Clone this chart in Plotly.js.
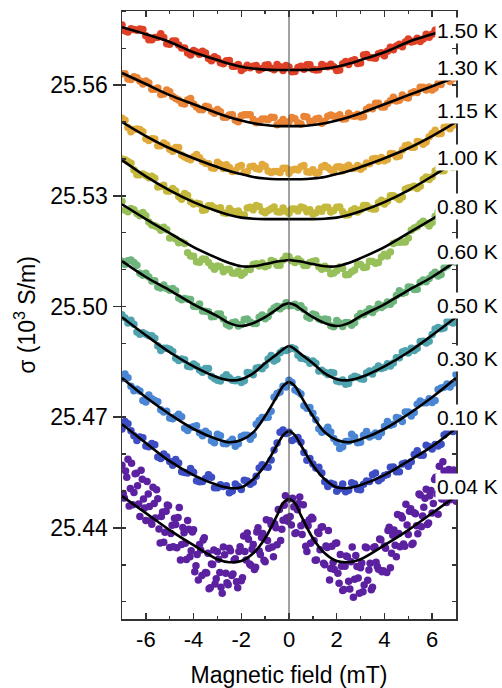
<!DOCTYPE html>
<html><head><meta charset="utf-8">
<script src="https://cdn.plot.ly/plotly-3.0.1.min.js"></script>
<style>body{margin:0;background:#fff}#chart{width:502px;height:688px}</style>
</head><body><div id="chart"></div>
<script>
// ---- data ----
const temps = ['1.50 K','1.30 K','1.15 K','1.00 K','0.80 K','0.60 K','0.50 K','0.30 K','0.10 K','0.04 K'];
const xDots = [-7,-6.75,-6.5,-6.25,-6,-5.75,-5.5,-5.25,-5,-4.75,-4.5,-4.25,-4,-3.75,-3.5,-3.25,-3,-2.75,-2.5,-2.25,-2,-1.75,-1.5,-1.25,-1,-0.75,-0.5,-0.25,0,0.25,0.5,0.75,1,1.25,1.5,1.75,2,2.25,2.5,2.75,3,3.25,3.5,3.75,4,4.25,4.5,4.75,5,5.25,5.5,5.75,6,6.25,6.5,6.75,7];
const xDotsB = [-6.875,-6.625,-6.375,-6.125,-5.875,-5.625,-5.375,-5.125,-4.875,-4.625,-4.375,-4.125,-3.875,-3.625,-3.375,-3.125,-2.875,-2.625,-2.375,-2.125,-1.875,-1.625,-1.375,-1.125,-0.875,-0.625,-0.375,-0.125,0.125,0.375,0.625,0.875,1.125,1.375,1.625,1.875,2.125,2.375,2.625,2.875,3.125,3.375,3.625,3.875,4.125,4.375,4.625,4.875,5.125,5.375,5.625,5.875,6.125,6.375,6.625,6.875];
const d150 = [25.5763,25.5744,25.5751,25.5752,25.5734,25.5723,25.5730,25.5729,25.5711,25.5720,25.5701,25.5687,25.5694,25.5684,25.5687,25.5666,25.5672,25.5658,25.5667,25.5651,25.5640,25.5654,25.5651,25.5641,25.5654,25.5646,25.5656,25.5640,25.5649,25.5637,25.5651,25.5655,25.5643,25.5642,25.5652,25.5657,25.5640,25.5658,25.5656,25.5669,25.5660,25.5683,25.5674,25.5685,25.5680,25.5703,25.5706,25.5704,25.5725,25.5719,25.5718,25.5738,25.5738,25.5752,25.5741,25.5756,25.5753];
const d150b = [25.5747,25.5753,25.5749,25.5751,25.5723,25.5729,25.5739,25.5712,25.5720,25.5709,25.5701,25.5682,25.5690,25.5692,25.5672,25.5677,25.5661,25.5666,25.5651,25.5656,25.5646,25.5647,25.5653,25.5645,25.5655,25.5642,25.5650,25.5653,25.5636,25.5648,25.5643,25.5655,25.5641,25.5656,25.5650,25.5650,25.5641,25.5664,25.5666,25.5659,25.5682,25.5675,25.5673,25.5688,25.5692,25.5696,25.5711,25.5717,25.5717,25.5727,25.5725,25.5730,25.5749,25.5756,25.5743,25.5758];
const d130 = [25.5631,25.5617,25.5623,25.5611,25.5611,25.5589,25.5592,25.5576,25.5582,25.5564,25.5551,25.5560,25.5549,25.5534,25.5543,25.5529,25.5534,25.5513,25.5519,25.5505,25.5517,25.5520,25.5507,25.5502,25.5508,25.5513,25.5493,25.5507,25.5501,25.5509,25.5495,25.5514,25.5501,25.5510,25.5502,25.5519,25.5515,25.5508,25.5524,25.5516,25.5514,25.5535,25.5536,25.5551,25.5541,25.5558,25.5557,25.5573,25.5565,25.5582,25.5594,25.5587,25.5587,25.5605,25.5617,25.5610,25.5632];
const d130b = [25.5631,25.5615,25.5620,25.5603,25.5606,25.5589,25.5575,25.5587,25.5569,25.5560,25.5549,25.5564,25.5541,25.5533,25.5541,25.5524,25.5528,25.5513,25.5520,25.5501,25.5520,25.5520,25.5498,25.5508,25.5506,25.5512,25.5498,25.5496,25.5512,25.5498,25.5515,25.5502,25.5508,25.5497,25.5516,25.5516,25.5520,25.5509,25.5517,25.5521,25.5515,25.5540,25.5551,25.5541,25.5550,25.5567,25.5559,25.5567,25.5579,25.5580,25.5594,25.5595,25.5592,25.5602,25.5620,25.5618];
const d115 = [25.5510,25.5485,25.5480,25.5480,25.5455,25.5455,25.5436,25.5443,25.5426,25.5431,25.5411,25.5401,25.5406,25.5403,25.5388,25.5376,25.5391,25.5374,25.5377,25.5368,25.5382,25.5365,25.5380,25.5372,25.5380,25.5363,25.5366,25.5375,25.5361,25.5372,25.5379,25.5365,25.5371,25.5364,25.5382,25.5371,25.5378,25.5368,25.5383,25.5375,25.5372,25.5389,25.5400,25.5394,25.5395,25.5415,25.5406,25.5424,25.5438,25.5432,25.5446,25.5446,25.5469,25.5468,25.5486,25.5482,25.5503];
const d115b = [25.5505,25.5474,25.5481,25.5474,25.5450,25.5454,25.5436,25.5438,25.5421,25.5431,25.5405,25.5398,25.5412,25.5393,25.5387,25.5375,25.5385,25.5384,25.5366,25.5379,25.5364,25.5379,25.5374,25.5385,25.5367,25.5366,25.5363,25.5375,25.5370,25.5370,25.5382,25.5364,25.5361,25.5378,25.5377,25.5366,25.5379,25.5378,25.5374,25.5382,25.5378,25.5387,25.5401,25.5404,25.5399,25.5414,25.5408,25.5436,25.5432,25.5447,25.5440,25.5460,25.5478,25.5469,25.5488,25.5491];
const d100 = [25.5400,25.5393,25.5370,25.5357,25.5355,25.5353,25.5324,25.5329,25.5313,25.5313,25.5291,25.5301,25.5278,25.5278,25.5262,25.5273,25.5265,25.5254,25.5266,25.5256,25.5249,25.5267,25.5262,25.5271,25.5254,25.5265,25.5257,25.5267,25.5253,25.5264,25.5270,25.5257,25.5251,25.5264,25.5269,25.5256,25.5269,25.5257,25.5249,25.5265,25.5262,25.5274,25.5264,25.5281,25.5278,25.5300,25.5296,25.5297,25.5321,25.5326,25.5326,25.5351,25.5352,25.5374,25.5368,25.5388,25.5386];
const d100b = [25.5398,25.5388,25.5357,25.5359,25.5349,25.5348,25.5325,25.5313,25.5320,25.5298,25.5306,25.5284,25.5280,25.5261,25.5273,25.5268,25.5268,25.5253,25.5258,25.5259,25.5248,25.5269,25.5274,25.5258,25.5260,25.5270,25.5256,25.5258,25.5264,25.5259,25.5267,25.5262,25.5254,25.5258,25.5269,25.5260,25.5270,25.5248,25.5260,25.5256,25.5274,25.5267,25.5264,25.5288,25.5285,25.5300,25.5290,25.5318,25.5323,25.5320,25.5344,25.5344,25.5367,25.5368,25.5386,25.5377];
const d080 = [25.5285,25.5257,25.5262,25.5246,25.5246,25.5221,25.5215,25.5215,25.5186,25.5183,25.5175,25.5146,25.5136,25.5120,25.5128,25.5110,25.5110,25.5094,25.5101,25.5090,25.5085,25.5102,25.5114,25.5110,25.5108,25.5125,25.5112,25.5126,25.5135,25.5119,25.5122,25.5111,25.5122,25.5108,25.5109,25.5089,25.5097,25.5103,25.5087,25.5099,25.5114,25.5107,25.5122,25.5119,25.5142,25.5148,25.5174,25.5175,25.5186,25.5213,25.5225,25.5226,25.5228,25.5257,25.5253,25.5269,25.5271];
const d080b = [25.5261,25.5266,25.5252,25.5255,25.5229,25.5219,25.5207,25.5208,25.5188,25.5173,25.5171,25.5137,25.5121,25.5129,25.5119,25.5101,25.5108,25.5100,25.5091,25.5096,25.5091,25.5100,25.5116,25.5118,25.5111,25.5122,25.5112,25.5136,25.5124,25.5129,25.5111,25.5119,25.5124,25.5101,25.5103,25.5091,25.5107,25.5086,25.5094,25.5113,25.5106,25.5123,25.5117,25.5134,25.5137,25.5171,25.5174,25.5175,25.5207,25.5216,25.5231,25.5218,25.5245,25.5263,25.5254,25.5274];
const d060 = [25.5123,25.5124,25.5119,25.5090,25.5090,25.5069,25.5053,25.5058,25.5044,25.5043,25.5018,25.5020,25.5001,25.5007,25.4987,25.4972,25.4980,25.4966,25.4947,25.4958,25.4951,25.4966,25.4954,25.4971,25.4967,25.4987,25.5001,25.5000,25.5002,25.5006,25.5002,25.4972,25.4980,25.4966,25.4966,25.4948,25.4962,25.4946,25.4956,25.4956,25.4981,25.4985,25.4984,25.5006,25.5003,25.5006,25.5030,25.5035,25.5053,25.5046,25.5066,25.5067,25.5086,25.5083,25.5105,25.5121,25.5119];
const d060b = [25.5114,25.5126,25.5112,25.5085,25.5080,25.5070,25.5050,25.5049,25.5049,25.5023,25.5022,25.5019,25.5000,25.4988,25.4986,25.4973,25.4980,25.4952,25.4956,25.4947,25.4965,25.4958,25.4954,25.4977,25.4973,25.4996,25.4994,25.5010,25.5003,25.4998,25.4992,25.4968,25.4977,25.4963,25.4965,25.4945,25.4955,25.4957,25.4949,25.4972,25.4978,25.4994,25.4993,25.4997,25.5012,25.5014,25.5043,25.5038,25.5052,25.5047,25.5072,25.5076,25.5093,25.5087,25.5110,25.5126];
const d050 = [25.4978,25.4955,25.4952,25.4925,25.4925,25.4921,25.4893,25.4887,25.4884,25.4860,25.4858,25.4838,25.4844,25.4828,25.4832,25.4811,25.4800,25.4808,25.4807,25.4799,25.4794,25.4821,25.4815,25.4835,25.4840,25.4867,25.4857,25.4881,25.4884,25.4885,25.4860,25.4856,25.4852,25.4825,25.4822,25.4821,25.4798,25.4801,25.4791,25.4811,25.4804,25.4820,25.4817,25.4839,25.4835,25.4839,25.4861,25.4877,25.4874,25.4881,25.4905,25.4901,25.4924,25.4943,25.4942,25.4959,25.4963];
const d050b = [25.4969,25.4963,25.4931,25.4929,25.4921,25.4914,25.4881,25.4887,25.4878,25.4854,25.4856,25.4837,25.4839,25.4822,25.4832,25.4805,25.4798,25.4815,25.4800,25.4802,25.4799,25.4820,25.4833,25.4831,25.4858,25.4852,25.4875,25.4881,25.4888,25.4868,25.4859,25.4846,25.4846,25.4827,25.4816,25.4820,25.4796,25.4789,25.4806,25.4808,25.4803,25.4825,25.4830,25.4832,25.4845,25.4847,25.4861,25.4880,25.4887,25.4887,25.4906,25.4906,25.4939,25.4940,25.4959,25.4955];
const d030 = [25.4805,25.4807,25.4772,25.4771,25.4741,25.4750,25.4742,25.4714,25.4698,25.4701,25.4701,25.4664,25.4674,25.4658,25.4662,25.4636,25.4654,25.4629,25.4633,25.4621,25.4648,25.4651,25.4651,25.4691,25.4699,25.4716,25.4764,25.4784,25.4800,25.4774,25.4763,25.4724,25.4711,25.4669,25.4663,25.4660,25.4632,25.4620,25.4635,25.4646,25.4632,25.4661,25.4651,25.4648,25.4675,25.4678,25.4699,25.4688,25.4714,25.4713,25.4744,25.4739,25.4740,25.4775,25.4781,25.4782,25.4816];
const d030b = [25.4817,25.4784,25.4776,25.4745,25.4760,25.4745,25.4720,25.4716,25.4696,25.4708,25.4670,25.4672,25.4677,25.4650,25.4655,25.4631,25.4650,25.4628,25.4640,25.4628,25.4651,25.4640,25.4681,25.4699,25.4700,25.4754,25.4768,25.4782,25.4794,25.4769,25.4731,25.4726,25.4693,25.4659,25.4673,25.4642,25.4615,25.4634,25.4654,25.4631,25.4651,25.4646,25.4657,25.4658,25.4688,25.4681,25.4697,25.4714,25.4703,25.4735,25.4739,25.4750,25.4745,25.4779,25.4790,25.4792];
const d010 = [25.4668,25.4682,25.4650,25.4646,25.4622,25.4629,25.4592,25.4600,25.4580,25.4585,25.4552,25.4549,25.4551,25.4525,25.4534,25.4537,25.4509,25.4512,25.4495,25.4519,25.4504,25.4527,25.4524,25.4562,25.4566,25.4584,25.4630,25.4665,25.4659,25.4641,25.4632,25.4583,25.4573,25.4564,25.4525,25.4521,25.4499,25.4519,25.4502,25.4519,25.4503,25.4527,25.4544,25.4528,25.4542,25.4564,25.4552,25.4573,25.4567,25.4599,25.4597,25.4624,25.4614,25.4622,25.4652,25.4668,25.4667];
const d010b = [25.4688,25.4663,25.4637,25.4644,25.4620,25.4625,25.4588,25.4593,25.4570,25.4576,25.4550,25.4561,25.4528,25.4526,25.4544,25.4509,25.4517,25.4514,25.4500,25.4512,25.4529,25.4518,25.4540,25.4571,25.4564,25.4611,25.4659,25.4656,25.4637,25.4645,25.4604,25.4588,25.4562,25.4549,25.4512,25.4518,25.4506,25.4498,25.4522,25.4505,25.4518,25.4526,25.4549,25.4534,25.4545,25.4565,25.4552,25.4576,25.4579,25.4609,25.4597,25.4620,25.4626,25.4627,25.4664,25.4661];
const xP = [-7,-6.9,-6.8,-6.7,-6.6,-6.5,-6.4,-6.3,-6.2,-6.1,-6,-5.9,-5.8,-5.7,-5.6,-5.5,-5.4,-5.3,-5.2,-5.1,-5,-4.9,-4.8,-4.7,-4.6,-4.5,-4.4,-4.3,-4.2,-4.1,-4,-3.9,-3.8,-3.7,-3.6,-3.5,-3.4,-3.3,-3.2,-3.1,-3,-2.9,-2.8,-2.7,-2.6,-2.5,-2.4,-2.3,-2.2,-2.1,-2,-1.9,-1.8,-1.7,-1.6,-1.5,-1.4,-1.3,-1.2,-1.1,-1,-0.9,-0.8,-0.7,-0.6,-0.5,-0.4,-0.3,-0.2,-0.1,0,0.1,0.2,0.3,0.4,0.5,0.6,0.7,0.8,0.9,1,1.1,1.2,1.3,1.4,1.5,1.6,1.7,1.8,1.9,2,2.1,2.2,2.3,2.4,2.5,2.6,2.7,2.8,2.9,3,3.1,3.2,3.3,3.4,3.5,3.6,3.7,3.8,3.9,4,4.1,4.2,4.3,4.4,4.5,4.6,4.7,4.8,4.9,5,5.1,5.2,5.3,5.4,5.5,5.6,5.7,5.8,5.9,6,6.1,6.2,6.3,6.4,6.5,6.6,6.7,6.8,6.9,7];
const d004 = [25.4570,25.4481,25.4537,25.4459,25.4575,25.4496,25.4548,25.4465,25.4556,25.4478,25.4420,25.4492,25.4419,25.4510,25.4427,25.4479,25.4359,25.4443,25.4388,25.4462,25.4347,25.4407,25.4426,25.4346,25.4455,25.4355,25.4387,25.4314,25.4396,25.4338,25.4395,25.4297,25.4259,25.4340,25.4367,25.4279,25.4331,25.4238,25.4301,25.4248,25.4335,25.4279,25.4223,25.4327,25.4251,25.4345,25.4271,25.4313,25.4254,25.4336,25.4257,25.4378,25.4313,25.4369,25.4299,25.4355,25.4293,25.4400,25.4328,25.4385,25.4308,25.4366,25.4419,25.4348,25.4411,25.4354,25.4450,25.4396,25.4461,25.4427,25.4478,25.4408,25.4457,25.4387,25.4466,25.4406,25.4463,25.4350,25.4406,25.4358,25.4425,25.4312,25.4389,25.4341,25.4403,25.4300,25.4347,25.4259,25.4350,25.4287,25.4359,25.4250,25.4296,25.4233,25.4324,25.4255,25.4308,25.4212,25.4325,25.4264,25.4292,25.4227,25.4348,25.4258,25.4304,25.4239,25.4349,25.4295,25.4370,25.4281,25.4351,25.4279,25.4402,25.4331,25.4394,25.4322,25.4385,25.4433,25.4356,25.4464,25.4382,25.4452,25.4358,25.4438,25.4384,25.4489,25.4432,25.4480,25.4409,25.4487,25.4440,25.4531,25.4492,25.4567,25.4478,25.4554,25.4469,25.4558,25.4493,25.4557,25.4472];
const xPB = [-6.95,-6.85,-6.75,-6.65,-6.55,-6.45,-6.35,-6.25,-6.15,-6.05,-5.95,-5.85,-5.75,-5.65,-5.55,-5.45,-5.35,-5.25,-5.15,-5.05,-4.95,-4.85,-4.75,-4.65,-4.55,-4.45,-4.35,-4.25,-4.15,-4.05,-3.95,-3.85,-3.75,-3.65,-3.55,-3.45,-3.35,-3.25,-3.15,-3.05,-2.95,-2.85,-2.75,-2.65,-2.55,-2.45,-2.35,-2.25,-2.15,-2.05,-1.95,-1.85,-1.75,-1.65,-1.55,-1.45,-1.35,-1.25,-1.15,-1.05,-0.95,-0.85,-0.75,-0.65,-0.55,-0.45,-0.35,-0.25,-0.15,-0.05,0.05,0.15,0.25,0.35,0.45,0.55,0.65,0.75,0.85,0.95,1.05,1.15,1.25,1.35,1.45,1.55,1.65,1.75,1.85,1.95,2.05,2.15,2.25,2.35,2.45,2.55,2.65,2.75,2.85,2.95,3.05,3.15,3.25,3.35,3.45,3.55,3.65,3.75,3.85,3.95,4.05,4.15,4.25,4.35,4.45,4.55,4.65,4.75,4.85,4.95,5.05,5.15,5.25,5.35,5.45,5.55,5.65,5.75,5.85,5.95,6.05,6.15,6.25,6.35,6.45,6.55,6.65,6.75,6.85,6.95];
const d004b = [25.4493,25.4554,25.4586,25.4507,25.4463,25.4547,25.4514,25.4431,25.4532,25.4454,25.4526,25.4458,25.4410,25.4466,25.4503,25.4397,25.4431,25.4361,25.4445,25.4460,25.4385,25.4349,25.4409,25.4428,25.4313,25.4401,25.4358,25.4420,25.4322,25.4389,25.4281,25.4328,25.4355,25.4271,25.4373,25.4278,25.4235,25.4302,25.4340,25.4262,25.4315,25.4239,25.4348,25.4277,25.4246,25.4338,25.4275,25.4316,25.4238,25.4349,25.4265,25.4336,25.4386,25.4302,25.4342,25.4287,25.4389,25.4337,25.4374,25.4312,25.4422,25.4345,25.4409,25.4322,25.4400,25.4450,25.4366,25.4421,25.4487,25.4418,25.4431,25.4480,25.4385,25.4449,25.4484,25.4382,25.4414,25.4336,25.4422,25.4429,25.4366,25.4313,25.4385,25.4402,25.4304,25.4351,25.4393,25.4290,25.4306,25.4358,25.4277,25.4328,25.4230,25.4296,25.4322,25.4234,25.4348,25.4261,25.4295,25.4223,25.4305,25.4245,25.4346,25.4286,25.4232,25.4347,25.4307,25.4288,25.4368,25.4284,25.4345,25.4393,25.4292,25.4380,25.4353,25.4436,25.4349,25.4427,25.4350,25.4408,25.4445,25.4355,25.4441,25.4406,25.4492,25.4403,25.4456,25.4505,25.4413,25.4501,25.4466,25.4537,25.4437,25.4513,25.4579,25.4502,25.4546,25.4476,25.4550,25.4495];

const xFit = [-7,-6,-5,-4,-3,-2.5,-2,-1.5,-1,-0.5,-0.25,0,0.25,0.5,1,1.5,2,2.5,3,4,5,6,7];
const f150 = [25.5757,25.5738,25.5717,25.5689,25.5668,25.5658,25.5650,25.5645,25.5642,25.5641,25.5641,25.5641,25.5641,25.5641,25.5642,25.5645,25.5650,25.5658,25.5668,25.5689,25.5717,25.5738,25.5757];
const f130 = [25.5633,25.5603,25.5573,25.5548,25.5524,25.5513,25.5504,25.5497,25.5492,25.5489,25.5489,25.5489,25.5489,25.5489,25.5492,25.5497,25.5504,25.5513,25.5524,25.5548,25.5573,25.5597,25.5622];
const f115 = [25.5500,25.5462,25.5429,25.5402,25.5378,25.5367,25.5359,25.5351,25.5347,25.5345,25.5345,25.5345,25.5345,25.5345,25.5347,25.5351,25.5359,25.5367,25.5378,25.5402,25.5429,25.5462,25.5500];
const f100 = [25.5397,25.5353,25.5315,25.5283,25.5258,25.5248,25.5241,25.5238,25.5237,25.5237,25.5237,25.5237,25.5237,25.5237,25.5237,25.5238,25.5241,25.5248,25.5258,25.5283,25.5315,25.5353,25.5394];
const f080 = [25.5277,25.5237,25.5199,25.5161,25.5131,25.5118,25.5109,25.5109,25.5115,25.5122,25.5124,25.5126,25.5124,25.5122,25.5115,25.5109,25.5109,25.5118,25.5131,25.5161,25.5199,25.5237,25.5277];
const f060 = [25.5123,25.5080,25.5044,25.5006,25.4974,25.4955,25.4947,25.4955,25.4971,25.4993,25.5004,25.5009,25.5004,25.4993,25.4971,25.4955,25.4947,25.4955,25.4974,25.5006,25.5044,25.5080,25.5123];
const f050 = [25.4971,25.4922,25.4876,25.4838,25.4808,25.4800,25.4803,25.4819,25.4846,25.4871,25.4884,25.4893,25.4884,25.4871,25.4846,25.4819,25.4803,25.4800,25.4808,25.4838,25.4876,25.4922,25.4971];
const f030 = [25.4806,25.4754,25.4708,25.4668,25.4640,25.4632,25.4638,25.4659,25.4703,25.4757,25.4784,25.4795,25.4784,25.4757,25.4703,25.4659,25.4638,25.4632,25.4640,25.4668,25.4708,25.4754,25.4806];
const f010 = [25.4681,25.4630,25.4581,25.4543,25.4516,25.4508,25.4510,25.4532,25.4570,25.4624,25.4651,25.4662,25.4651,25.4624,25.4570,25.4532,25.4510,25.4508,25.4516,25.4543,25.4581,25.4621,25.4670];
const f004 = [25.4486,25.4440,25.4394,25.4353,25.4315,25.4307,25.4310,25.4331,25.4372,25.4434,25.4467,25.4478,25.4467,25.4434,25.4372,25.4331,25.4310,25.4307,25.4315,25.4353,25.4394,25.4440,25.4486];

const xTickVals = [-6,-4,-2,0,2,4,6];
const xTickText = ['-6','-4','-2','0','2','4','6'];
const yTickVals = [25.44,25.47,25.50,25.53,25.56];
const yTickText = ['25.44','25.47','25.50','25.53','25.56'];

// ---- styling ----
const colors = ['#df4127','#ea8436','#e2a93b','#c4b93c','#98c05a','#6db57c','#4fa3ae','#4a86d4','#3d4ec4','#5b21a0'];
const labelY = [25.5749,25.5649,25.5532,25.5405,25.5272,25.5150,25.5004,25.4860,25.4700,25.4513];
const FONT = 'Liberation Sans, Arial, Helvetica, sans-serif';
const yRange = [25.4153, 25.5801];
const xRange = [-7, 7];

const dotSets = [
  [xDots, d150, xDotsB, d150b], [xDots, d130, xDotsB, d130b], [xDots, d115, xDotsB, d115b],
  [xDots, d100, xDotsB, d100b], [xDots, d080, xDotsB, d080b], [xDots, d060, xDotsB, d060b],
  [xDots, d050, xDotsB, d050b], [xDots, d030, xDotsB, d030b], [xDots, d010, xDotsB, d010b],
  [xP, d004, xPB, d004b]
];
const fitSets = [f150,f130,f115,f100,f080,f060,f050,f030,f010,f004];

const traces = [];
dotSets.forEach((s, k) => {
  traces.push({
    x: s[0].concat(s[2]), y: s[1].concat(s[3]), type: 'scatter', mode: 'markers',
    marker: {size: 7.5, color: colors[k]}, showlegend: false, hoverinfo: 'skip'
  });
});
fitSets.forEach((ys) => {
  traces.push({
    x: xFit, y: ys, type: 'scatter', mode: 'lines',
    line: {color: '#000', width: 2.6, shape: 'spline', smoothing: 1},
    showlegend: false, hoverinfo: 'skip'
  });
});
// helper trace so the right-hand tick axis is drawn
traces.push({x: [null], y: [null], xaxis: 'x', yaxis: 'y2', type: 'scatter', mode: 'markers', showlegend: false, hoverinfo: 'skip'});

const axCol = '#333';
const layout = {
  width: 502, height: 688,
  margin: {l: 122, r: 46, t: 11, b: 69},
  paper_bgcolor: '#fff', plot_bgcolor: '#fff',
  font: {family: FONT, color: '#000', size: 22},
  showlegend: false,
  xaxis: {
    range: xRange, tickmode: 'array', tickvals: xTickVals, ticktext: xTickText,
    ticks: 'inside', ticklen: 6, tickwidth: 1.5, tickcolor: axCol,
    minor: {tickmode: 'linear', tick0: 0, dtick: 1, ticks: 'inside', ticklen: 3, tickwidth: 1.5, tickcolor: axCol, showgrid: false},
    showline: true, linecolor: axCol, linewidth: 1.5, mirror: 'ticks',
    showgrid: false, zeroline: false,
    tickfont: {family: FONT, size: 22, color: '#000'},
    title: {text: 'Magnetic field (mT)', font: {family: FONT, size: 23, color: '#000'}, standoff: 20}
  },
  yaxis: {
    range: yRange, tickmode: 'array', tickvals: yTickVals, ticktext: yTickText,
    ticks: 'outside', ticklen: 8, tickwidth: 1.5, tickcolor: axCol,
    minor: {tickmode: 'linear', tick0: 25.44, dtick: 0.01, ticks: 'inside', ticklen: 4, tickwidth: 1.5, tickcolor: axCol, showgrid: false},
    showline: true, linecolor: axCol, linewidth: 1.5,
    showgrid: false, zeroline: false,
    tickfont: {family: FONT, size: 23, color: '#000'},
    title: {text: 'σ (10<sup>3</sup> S/m)', font: {family: FONT, size: 23, color: '#000'}, standoff: 8}
  },
  yaxis2: {
    overlaying: 'y', side: 'right', range: yRange,
    tickmode: 'linear', tick0: 25.44, dtick: 0.01,
    ticks: 'inside', ticklen: 4, tickwidth: 1.5, tickcolor: axCol,
    showticklabels: false, showline: true, linecolor: axCol, linewidth: 1.5,
    showgrid: false, zeroline: false
  },
  shapes: [{type: 'line', xref: 'x', yref: 'paper', x0: 0, x1: 0, y0: 0, y1: 1, layer: 'above', line: {color: '#444', width: 1}}],
  annotations: temps.map((t, k) => ({
    text: t, xref: 'x', yref: 'y', x: 6.1, y: labelY[k], xanchor: 'left', yanchor: 'middle',
    showarrow: false, bgcolor: '#fff', borderpad: 1,
    font: {family: FONT, size: 21, color: '#000'}
  }))
};

Plotly.newPlot('chart', traces, layout, {staticPlot: true, displayModeBar: false});
</script>
</body></html>
